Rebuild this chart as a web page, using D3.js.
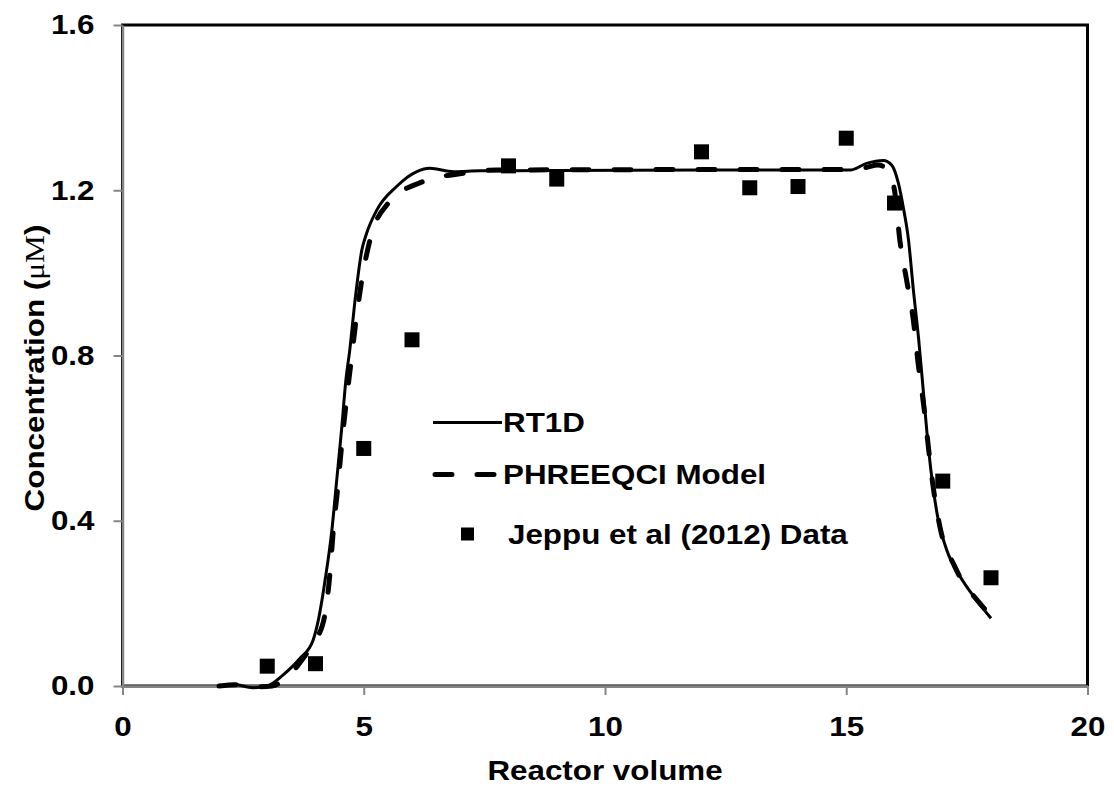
<!DOCTYPE html>
<html>
<head>
<meta charset="utf-8">
<script src="https://cdn.jsdelivr.net/npm/d3@7"></script>
<style>
  body { margin: 0; background: #fff; }
  text { font-family: "Liberation Sans", Arial, sans-serif; font-weight: bold; fill: #000; }
</style>
</head>
<body>
<div id="chart"></div>
<script>
// series: [reactor volume, concentration]
const rt1d = [
  [2.0, 0.0], [2.3, 0.004], [2.7, -0.004], [3.0, 0.0], [3.33, 0.027], [3.68, 0.067],
  [3.95, 0.111], [4.06, 0.16], [4.2, 0.257], [4.34, 0.378], [4.44, 0.499], [4.54, 0.62],
  [4.63, 0.741], [4.71, 0.813], [4.82, 0.934], [4.96, 1.055], [5.06, 1.096], [5.27, 1.152],
  [5.68, 1.209], [6.1, 1.245], [6.37, 1.253], [6.86, 1.245], [7.41, 1.247], [9.0, 1.248],
  [12.0, 1.249], [15.08, 1.249], [15.42, 1.265], [15.77, 1.272], [15.94, 1.261], [16.08, 1.217],
  [16.18, 1.16], [16.29, 1.08], [16.39, 0.96], [16.5, 0.84], [16.6, 0.71], [16.7, 0.58],
  [16.8, 0.48], [16.91, 0.40], [17.08, 0.33], [17.36, 0.265], [17.7, 0.208], [18.0, 0.164]
];

const phreeqci = [
  [2.0, 0.0], [2.4, 0.003], [2.8, -0.002], [3.1, 0.0], [3.4, 0.02], [3.82, 0.079],
  [4.0, 0.11], [4.2, 0.176], [4.3, 0.273], [4.37, 0.378], [4.46, 0.479], [4.54, 0.58],
  [4.63, 0.68], [4.75, 0.797], [4.85, 0.894], [4.96, 0.983], [5.13, 1.08], [5.51, 1.169],
  [6.23, 1.221], [7.06, 1.241], [7.76, 1.249], [12.0, 1.25], [15.0, 1.25], [15.4, 1.255],
  [15.66, 1.261], [15.85, 1.25], [16.0, 1.2], [16.11, 1.08], [16.25, 0.983], [16.39, 0.886],
  [16.49, 0.781], [16.6, 0.684], [16.8, 0.483], [16.94, 0.386], [17.25, 0.289], [17.77, 0.2],
  [18.0, 0.17]
];

const jeppuX = [3, 4, 5, 6, 8, 9, 12, 13, 14, 15, 16, 17, 18];
const jeppuY = [0.048, 0.054, 0.575, 0.838, 1.259, 1.227, 1.293, 1.206, 1.209, 1.326, 1.169, 0.496, 0.262];

const xTicks = [0, 5, 10, 15, 20];
const yTicks = [0, 0.4, 0.8, 1.2, 1.6];
const legendLabels = ["RT1D", "PHREEQCI Model", "Jeppu et al (2012) Data"];

const W = 1114, H = 788;
const SX = 1.12; // text in the original is a little wide

const svg = d3.select("#chart")
  .append("svg")
  .attr("width", W)
  .attr("height", H);

const x = d3.scaleLinear().domain([0, 20]).range([122.5, 1087.5]);
const y = d3.scaleLinear().domain([0, 1.6]).range([686, 25]);

// plot border
svg.append("rect")
  .attr("x", x(0))
  .attr("y", y(1.6))
  .attr("width", x(20) - x(0))
  .attr("height", y(0) - y(1.6))
  .attr("fill", "none")
  .attr("stroke", "#000")
  .attr("stroke-width", 3);

const xAxis = svg.append("g")
  .attr("transform", `translate(0,${y(0)})`)
  .call(d3.axisBottom(x).tickValues(xTicks).tickFormat(d3.format("d")).tickSize(9).tickSizeOuter(0).tickPadding(21));

const yAxis = svg.append("g")
  .attr("transform", `translate(${x(0)},0)`)
  .call(d3.axisLeft(y).tickValues(yTicks).tickFormat(d3.format(".1f")).tickSize(9).tickSizeOuter(0));

[xAxis, yAxis].forEach(g => {
  g.select(".domain").attr("stroke", "#868686").attr("stroke-width", 2.5);
  g.selectAll(".tick line").attr("stroke", "#868686").attr("stroke-width", 2);
  g.selectAll(".tick text").attr("font-size", 28).attr("fill", "#000");
});
xAxis.selectAll(".tick text").attr("transform", `scale(${SX},1)`);
yAxis.selectAll(".tick text")
  .attr("x", 0)
  .attr("transform", `translate(-28,0) scale(${SX},1)`);

// axis titles
svg.append("text")
  .attr("transform", `translate(${(x(0) + x(20)) / 2},780) scale(${SX},1)`)
  .attr("text-anchor", "middle")
  .attr("font-size", 28)
  .text("Reactor volume");

const yTitle = svg.append("text")
  .attr("transform", `translate(44,368) rotate(-90) scale(${SX},1)`)
  .attr("text-anchor", "middle")
  .attr("font-size", 28);
yTitle.append("tspan").text("Concentration (");
yTitle.append("tspan")
  .style("font-family", "'Liberation Serif', 'Times New Roman', serif")
  .style("font-weight", "normal")
  .text("μM");
yTitle.append("tspan").text(")");

// curves
const line = d3.line()
  .x(d => x(d[0]))
  .y(d => y(d[1]))
  .curve(d3.curveMonotoneX);

svg.append("path")
  .datum(rt1d)
  .attr("fill", "none")
  .attr("stroke", "#000")
  .attr("stroke-width", 3)
  .attr("d", line);

svg.append("path")
  .datum(phreeqci)
  .attr("fill", "none")
  .attr("stroke", "#000")
  .attr("stroke-width", 5)
  .attr("stroke-linecap", "round")
  .attr("stroke-dasharray", "17,25")
  .attr("d", line);

// data points
const sq = 15;
svg.selectAll("rect.pt")
  .data(jeppuX.map((v, i) => [v, jeppuY[i]]))
  .enter()
  .append("rect")
  .attr("class", "pt")
  .attr("x", d => x(d[0]) - sq / 2)
  .attr("y", d => y(d[1]) - sq / 2)
  .attr("width", sq)
  .attr("height", sq)
  .attr("fill", "#000");

// legend
const legend = svg.append("g").attr("transform", "translate(433,0)");

legend.append("line")
  .attr("x1", 0).attr("x2", 69)
  .attr("y1", 422.5).attr("y2", 422.5)
  .attr("stroke", "#000")
  .attr("stroke-width", 3);

legend.append("line")
  .attr("x1", 2).attr("x2", 67)
  .attr("y1", 474.5).attr("y2", 474.5)
  .attr("stroke", "#000")
  .attr("stroke-width", 5)
  .attr("stroke-linecap", "round")
  .attr("stroke-dasharray", "17,25");

legend.append("rect")
  .attr("x", 28).attr("y", 527.5)
  .attr("width", 13).attr("height", 13)
  .attr("fill", "#000");

const legendPos = [[70, 432], [70, 484], [75, 544]];
legendLabels.forEach((label, i) => {
  legend.append("text")
    .attr("transform", `translate(${legendPos[i][0]},${legendPos[i][1]}) scale(${SX},1)`)
    .attr("font-size", 28)
    .text(label);
});
</script>
</body>
</html>
